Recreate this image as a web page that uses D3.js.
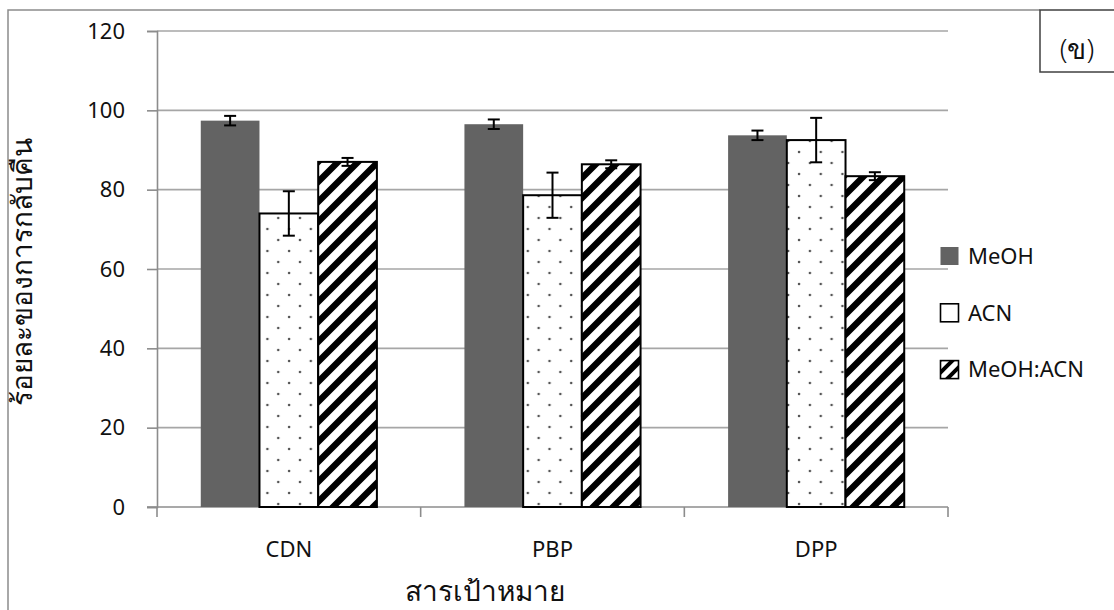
<!DOCTYPE html>
<html>
<head>
<meta charset="utf-8">
<script src="https://cdn.jsdelivr.net/npm/d3@7"></script>
<style>
  html, body { margin: 0; padding: 0; background: #fff; }
  svg { display: block; font-family: 'Noto Sans', 'Open Sans', sans-serif; }
  .thai { font-weight: 300; }
</style>
</head>
<body>
<svg id="chart" width="1114" height="610"></svg>
<script>
// Recovery (%) of each target compound with three extraction solvents
const categories = ["CDN", "PBP", "DPP"];
const seriesNames = ["MeOH", "ACN", "MeOH:ACN"];
const meohValues = [97.4, 96.5, 93.7];
const meohErrors = [1.2, 1.2, 1.2];
const acnValues = [74.0, 78.6, 92.5];
const acnErrors = [5.6, 5.7, 5.6];
const mixValues = [87.0, 86.4, 83.4];
const mixErrors = [1.0, 1.0, 1.0];
const yTicks = [0, 20, 40, 60, 80, 100, 120];
const yTitle = "ร้อยละของการกลับคืน";
const xTitle = "สารเป้าหมาย";
const panelLabel = "(ข)";

const seriesValues = [meohValues, acnValues, mixValues];
const seriesErrors = [meohErrors, acnErrors, mixErrors];

const svg = d3.select("#chart");
const FONT = 22;
const THAI_FONT = 28;

// patterns
const defs = svg.append("defs");
const dots = defs.append("pattern")
  .attr("id", "dots").attr("patternUnits", "userSpaceOnUse")
  .attr("x", 3).attr("y", 5)
  .attr("width", 21.7).attr("height", 22);
dots.append("rect").attr("width", 21.7).attr("height", 22).attr("fill", "#fff");
dots.append("circle").attr("cx", 4).attr("cy", 4).attr("r", 1.3).attr("fill", "#555");
dots.append("circle").attr("cx", 14.85).attr("cy", 15).attr("r", 1.3).attr("fill", "#555");

function stripePattern(id, p, w) {
  const pat = defs.append("pattern")
    .attr("id", id).attr("patternUnits", "userSpaceOnUse")
    .attr("width", p).attr("height", p);
  pat.append("rect").attr("width", p).attr("height", p).attr("fill", "#fff");
  pat.append("path")
    .attr("d", `M${-p/4},${p/4} L${p/4},${-p/4} M0,${p} L${p},0 M${3*p/4},${5*p/4} L${5*p/4},${3*p/4}`)
    .attr("stroke", "#000").attr("stroke-width", w);
}
stripePattern("stripes", 20, 6.4);
stripePattern("stripesSmall", 13, 4);

// outer frame (left and top edges)
svg.append("path")
  .attr("d", "M8,612 L8,10 L1040,10")
  .attr("fill", "none").attr("stroke", "#8c8c8c").attr("stroke-width", 1.5);

// scales
const plotLeft = 157, plotRight = 948, plotTop = 31, plotBottom = 507;
const y = d3.scaleLinear().domain([0, 120]).range([plotBottom, plotTop]);
const x0 = d3.scaleBand().domain(categories).range([plotLeft, plotRight]);
const x1 = d3.scaleBand().domain(seriesNames)
  .range([x0.bandwidth() * 0.166, x0.bandwidth() * 0.834]);

// gridlines
svg.append("g")
  .selectAll("line").data(yTicks.filter(d => d > 0)).join("line")
  .attr("x1", plotLeft).attr("x2", plotRight)
  .attr("y1", d => y(d)).attr("y2", d => y(d))
  .attr("stroke", "#a6a6a6").attr("stroke-width", 1.6);

// y axis
const yAxis = svg.append("g").attr("transform", `translate(${plotLeft},0)`)
  .call(d3.axisLeft(y).tickValues(yTicks).tickSize(10).tickPadding(22));
yAxis.select(".domain").attr("stroke", "#8c8c8c").attr("stroke-width", 1.6);
yAxis.selectAll(".tick line").attr("stroke", "#8c8c8c").attr("stroke-width", 1.6);
yAxis.selectAll(".tick text").attr("font-size", FONT).attr("fill", "#111")
  .attr("font-family", "'Noto Sans', sans-serif");

// x axis
const xAxis = svg.append("g").attr("transform", `translate(0,${plotBottom})`)
  .call(d3.axisBottom(x0).tickSize(0).tickPadding(34));
xAxis.select(".domain").remove();
xAxis.selectAll(".tick text").attr("font-size", FONT).attr("fill", "#111")
  .attr("font-family", "'Noto Sans', sans-serif");
svg.append("line")
  .attr("x1", plotLeft - 10).attr("x2", plotRight)
  .attr("y1", plotBottom).attr("y2", plotBottom)
  .attr("stroke", "#8c8c8c").attr("stroke-width", 1.6);
const boundaries = categories.map(c => x0(c)).concat([x0(categories[2]) + x0.bandwidth()]);
svg.append("g").selectAll("line").data(boundaries).join("line")
  .attr("x1", d => d).attr("x2", d => d)
  .attr("y1", plotBottom).attr("y2", plotBottom + 10)
  .attr("stroke", "#8c8c8c").attr("stroke-width", 1.6);

// bars
const fills = ["#636363", "url(#dots)", "url(#stripes)"];
const strokes = ["none", "#000", "#000"];
const rows = [];
categories.forEach((c, i) => seriesNames.forEach((s, j) => {
  rows.push({ cat: c, ser: s, j, v: seriesValues[j][i], e: seriesErrors[j][i] });
}));

const barG = svg.append("g");
barG.selectAll("rect").data(rows).join("rect")
  .attr("x", d => x0(d.cat) + x1(d.ser))
  .attr("y", d => y(d.v))
  .attr("width", x1.bandwidth())
  .attr("height", d => y(0) - y(d.v))
  .attr("fill", d => fills[d.j])
  .attr("stroke", d => strokes[d.j])
  .attr("stroke-width", 2);

// error bars
const errG = svg.append("g").attr("stroke", "#000").attr("stroke-width", 2);
rows.forEach(d => {
  const cx = x0(d.cat) + x1(d.ser) + x1.bandwidth() / 2;
  errG.append("line").attr("x1", cx).attr("x2", cx)
    .attr("y1", y(d.v + d.e)).attr("y2", y(d.v - d.e));
  [d.v + d.e, d.v - d.e].forEach(t => {
    errG.append("line").attr("x1", cx - 6).attr("x2", cx + 6)
      .attr("y1", y(t)).attr("y2", y(t));
  });
});

// legend
const legendFills = ["#636363", "#fff", "url(#stripesSmall)"];
const legendStrokes = ["none", "#000", "#000"];
const legend = svg.append("g");
seriesNames.forEach((s, j) => {
  const cy = 256 + j * 56.8;
  legend.append("rect")
    .attr("x", 940.5).attr("y", cy - 9)
    .attr("width", 18).attr("height", 18)
    .attr("fill", legendFills[j]).attr("stroke", legendStrokes[j]).attr("stroke-width", 1.6);
  legend.append("text")
    .attr("x", 968).attr("y", cy).attr("dy", "0.35em")
    .attr("font-size", FONT).attr("fill", "#111").text(s);
});

// axis titles
svg.append("text").attr("class", "thai")
  .attr("transform", `translate(22,272) rotate(-90)`)
  .attr("text-anchor", "middle").attr("dy", "0.35em")
  .attr("font-size", THAI_FONT).attr("fill", "#111").text(yTitle);
svg.append("text").attr("class", "thai")
  .attr("x", 485).attr("y", 591).attr("dy", "0.35em")
  .attr("text-anchor", "middle")
  .attr("font-size", THAI_FONT).attr("fill", "#111").text(xTitle);

// panel label box
svg.append("rect")
  .attr("x", 1040).attr("y", 10).attr("width", 90).attr("height", 62)
  .attr("fill", "#fff").attr("stroke", "#404040").attr("stroke-width", 1.5);
svg.append("text").attr("class", "thai")
  .attr("x", 1077).attr("y", 49).attr("dy", "0.35em")
  .attr("text-anchor", "middle")
  .attr("font-size", THAI_FONT).attr("fill", "#111").text(panelLabel);
</script>
</body>
</html>
